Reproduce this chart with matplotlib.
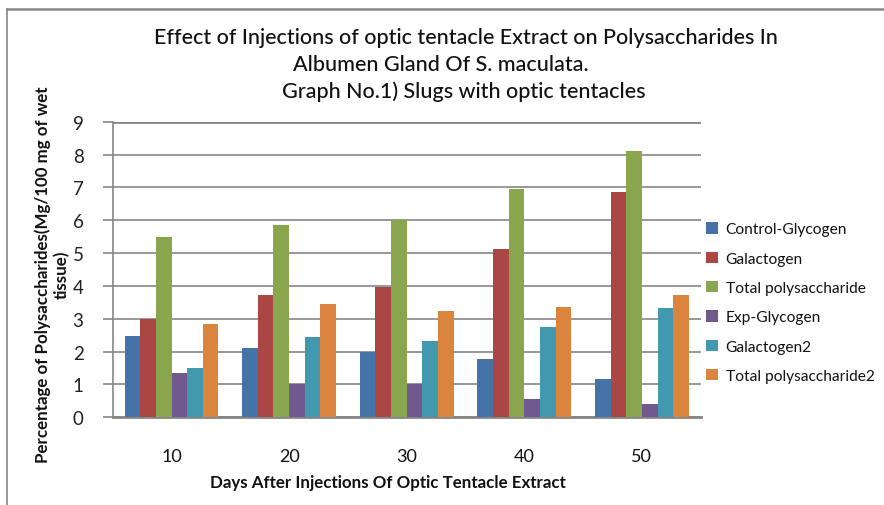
import matplotlib
matplotlib.use("Agg")
import matplotlib.pyplot as plt
from matplotlib.lines import Line2D
import numpy as np

categories = ["10", "20", "30", "40", "50"]
series_names = ["Control-Glycogen", "Galactogen", "Total polysaccharide",
                "Exp-Glycogen", "Galactogen2", "Total polysaccharide2"]
control_glycogen = [2.47, 2.11, 1.99, 1.77, 1.17]
galactogen = [2.98, 3.72, 3.97, 5.12, 6.86]
total_poly = [5.50, 5.85, 6.00, 6.95, 8.10]
exp_glycogen = [1.35, 1.00, 1.00, 0.56, 0.41]
galactogen2 = [1.50, 2.44, 2.32, 2.75, 3.33]
total_poly2 = [2.84, 3.45, 3.24, 3.36, 3.72]
series_values = [control_glycogen, galactogen, total_poly,
                 exp_glycogen, galactogen2, total_poly2]
colors = ["#4572A7", "#AA4643", "#89A54E", "#71588F", "#4198AF", "#DB843D"]

plt.rcParams['font.family'] = ['Lato', 'DejaVu Sans']

W, H = 884, 506
fig = plt.figure(figsize=(W / 100, H / 100), dpi=100)
ax = fig.add_axes([112.7 / W, 1 - 418.3 / H, 588 / W, 295.6 / H])

x = np.arange(len(categories))
bw = 0.1328
for i, (name, vals, c) in enumerate(zip(series_names, series_values, colors)):
    ax.bar(x + (i - 2.5) * bw, vals, width=bw, color=c, label=name, zorder=3)

ax.set_xlim(-0.5, len(categories) - 0.5)
ax.set_ylim(0, 9)
ax.set_yticks(range(0, 10))
ax.set_xticks(x)
ax.set_xticklabels(categories)
grid_c = "#868686"
ax.yaxis.grid(True, color=grid_c, linewidth=1.2, zorder=0)
ax.set_axisbelow(True)
for s in ["top", "right"]:
    ax.spines[s].set_visible(False)
ax.spines["left"].set_color(grid_c)
ax.spines["left"].set_linewidth(1.2)
ax.spines["bottom"].set_color(grid_c)
ax.spines["bottom"].set_linewidth(2)
ax.tick_params(axis="y", length=7, width=1.2, color=grid_c, labelsize=13.5,
               labelcolor="#222222", pad=14)
ax.tick_params(axis="x", length=0, labelsize=13, labelcolor="#111111", pad=22)

ax.axhline(9, color=grid_c, linewidth=2, zorder=1)

leg = fig.legend(loc="upper left", bbox_to_anchor=(700 / W, 1 - 217 / H),
                 frameon=False, fontsize=11.2, handlelength=0.75, handleheight=0.75,
                 handletextpad=0.5, labelspacing=0.98, borderaxespad=0)
for t in leg.get_texts():
    t.set_color("#111111")

title_lines = ["Effect of Injections of optic tentacle Extract on Polysaccharides In",
               "Albumen Gland Of S. maculata.",
               "Graph No.1) Slugs with optic tentacles"]
title_x = [466, 441, 464]
title_y = [38, 65, 92]
for line, xx, yy in zip(title_lines, title_x, title_y):
    fig.text(xx / W, 1 - yy / H, line, ha="center", va="center",
             fontsize=15.5, color="#111111", fontweight="medium")

fig.text(388 / W, 1 - 483 / H, "Days After Injections Of Optic Tentacle Extract",
         ha="center", va="center", fontsize=12.2, fontweight="bold", color="#111111")
fig.text(52 / W, 1 - 275 / H,
         "Percentage of Polysaccharides(Mg/100 mg of wet\ntissue)",
         ha="center", va="center", rotation=90, multialignment="center",
         fontsize=12.2, fontweight="bold", color="#111111", linespacing=1.2)

fig.add_artist(Line2D([7 / W, 1], [1 - 10 / H, 1 - 10 / H], transform=fig.transFigure,
                      color="#888888", linewidth=1.8))
fig.add_artist(Line2D([7 / W, 7 / W], [0, 1 - 10 / H], transform=fig.transFigure,
                      color="#888888", linewidth=1.2))

fig.savefig("out.png", dpi=100)
